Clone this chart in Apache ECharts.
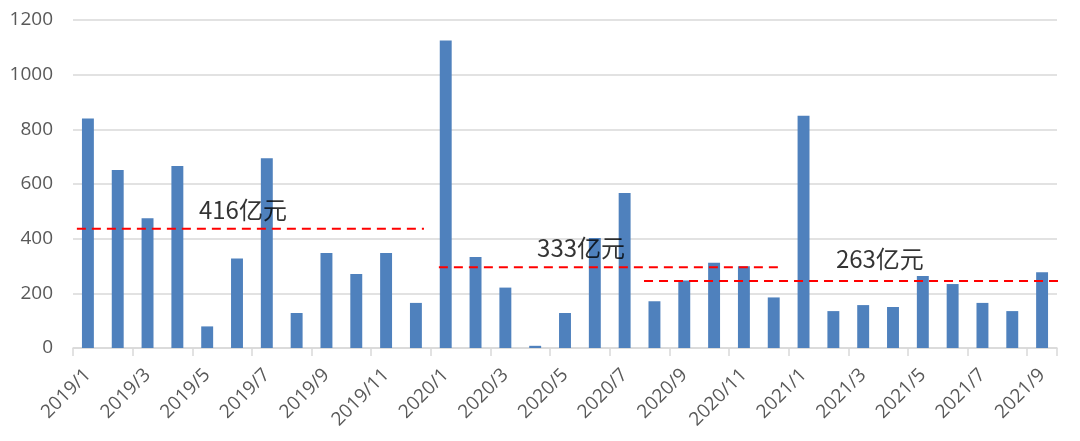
<!DOCTYPE html>
<html>
<head>
<meta charset="utf-8">
<script src="https://cdn.jsdelivr.net/npm/echarts@6/dist/echarts.min.js"></script>
<style>html,body{margin:0;padding:0;background:#fff}#c{width:1080px;height:441px}</style>
</head>
<body>
<div id="c"></div>
<script>
var categories = ['2019/1','2019/2','2019/3','2019/4','2019/5','2019/6','2019/7','2019/8','2019/9','2019/10','2019/11','2019/12',
  '2020/1','2020/2','2020/3','2020/4','2020/5','2020/6','2020/7','2020/8','2020/9','2020/10','2020/11','2020/12',
  '2021/1','2021/2','2021/3','2021/4','2021/5','2021/6','2021/7','2021/8','2021/9'];
var values = [840,651,475,666,79,327,694,128,348,271,348,165,
  1125,333,221,8,128,402,567,171,247,312,299,185,
  850,135,157,150,263,234,165,135,277];
var yTicks = [0,200,400,600,800,1000,1200];
// average lines: [startPos, endPos, value] in month-index units
var avg2019 = [[0.13,436],[11.77,436]];
var avg2020 = [[12.27,295],[23.71,295]];
var avg2021 = [[19.15,245],[33.37,245]];
var annotations = [
  {pos:[5.7,506], text:'416亿元'},
  {pos:[17.04,367], text:'333亿元'},
  {pos:[27.06,327], text:'263亿元'}
];

var chart = echarts.init(document.getElementById('c'));
var dashStyle = {color:'#ff0000', width:2, type:[9,6]};
function avgSeries(d){
  return {type:'line', xAxisIndex:1, data:d, symbol:'none', clip:false, silent:true,
    lineStyle:dashStyle, z:5};
}
chart.setOption({
  animation:false,
  grid:{left:73, right:23, top:20, bottom:93, containLabel:false},
  xAxis:[{
    type:'category', data:categories, boundaryGap:true,
    axisLine:{lineStyle:{color:'#d9d9d9', width:1.5}},
    axisTick:{show:true, interval:1, length:8, lineStyle:{color:'#d9d9d9', width:1.5}},
    axisLabel:{interval:1, rotate:45, margin:24, color:'#595959', fontSize:19, fontFamily:'Open Sans'}
  },{
    type:'value', min:0, max:33, show:false
  }],
  yAxis:{
    type:'value', min:yTicks[0], max:yTicks[yTicks.length-1], interval:200,
    axisLine:{show:false}, axisTick:{show:false},
    splitLine:{lineStyle:{color:'#d9d9d9', width:1.5}},
    axisLabel:{color:'#595959', fontSize:19, fontFamily:'Open Sans', margin:20,
      formatter:function(v){return String(v);}}
  },
  series:[
    {type:'bar', data:values, barWidth:'40%', itemStyle:{color:'#4f81bd'}, z:2},
    avgSeries(avg2019), avgSeries(avg2020), avgSeries(avg2021),
    {type:'scatter', xAxisIndex:1, symbolSize:0, silent:true, z:6,
      data:annotations.map(function(a){return {value:a.pos, name:a.text};}),
      label:{show:true, position:'inside', formatter:function(p){return p.name;},
        color:'#000', fontSize:24, fontFamily:'Noto Sans CJK SC'}}
  ]
});
</script>
</body>
</html>
